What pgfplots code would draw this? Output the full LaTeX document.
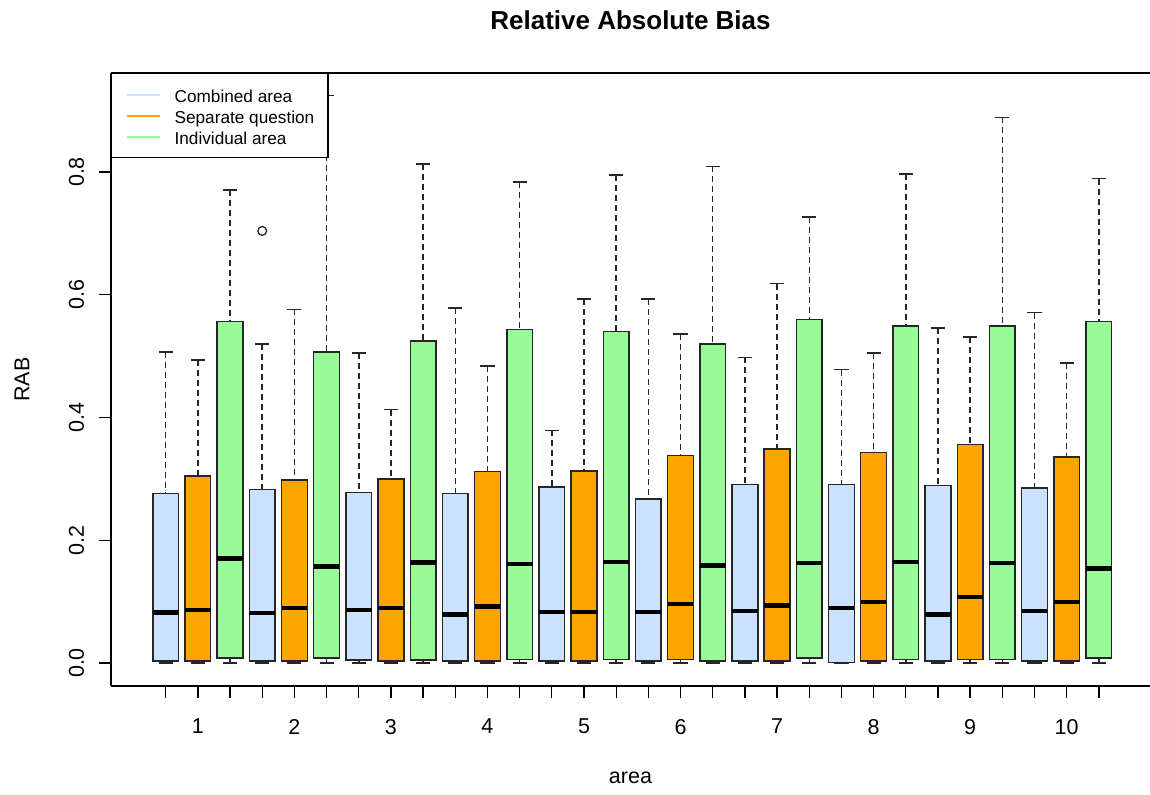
\documentclass[border=0pt]{standalone}
\usepackage{pgfplots}
\pgfplotsset{compat=1.18}
\usepgfplotslibrary{statistics}
\usepackage{fontspec}
\setmainfont{Liberation Sans}
\definecolor{cblue}{HTML}{CAE1FF}
\definecolor{corange}{HTML}{FFA500}
\definecolor{cgreen}{HTML}{98FB98}
\pgfplotsset{
  boxplot/draw direction=y,
  boxplot/box extend=0.8,
  boxplot/whisker extend=0.44,
  boxplot/every median/.style={draw=black, line width=2.2pt},
  boxplot/draw/lower whisker/.code={%
    \draw[black!85, line width=0.75pt, dash pattern=on 3pt off 2pt]
      (boxplot cs:\pgfplotsboxplotvalue{lower whisker}) -- (boxplot cs:\pgfplotsboxplotvalue{lower quartile});
    \draw[black!85, line width=0.75pt]
      (boxplot whisker cs:\pgfplotsboxplotvalue{lower whisker},0) -- (boxplot whisker cs:\pgfplotsboxplotvalue{lower whisker},1);
  },
  boxplot/draw/upper whisker/.code={%
    \draw[black!85, line width=0.75pt, dash pattern=on 3pt off 2pt]
      (boxplot cs:\pgfplotsboxplotvalue{upper whisker}) -- (boxplot cs:\pgfplotsboxplotvalue{upper quartile});
    \draw[black!85, line width=0.75pt]
      (boxplot whisker cs:\pgfplotsboxplotvalue{upper whisker},0) -- (boxplot whisker cs:\pgfplotsboxplotvalue{upper whisker},1);
  },
}
\newcommand{\bx}[7]{%
  \addplot[forget plot, boxplot/draw direction=y, boxplot prepared={draw position=#1, lower whisker=#2, lower quartile=#3, median=#4, upper quartile=#5, upper whisker=#6},
    boxplot/every box/.style={fill=#7, draw=black!85, line width=0.75pt}] coordinates {};
}
\begin{document}
\begin{tikzpicture}
\useasboundingbox (-55.5pt,-54pt) rectangle (519.5pt,343pt);
\begin{axis}[
  scale only axis,
  width=519.5pt, height=306.5pt,
  xmin=-0.7, xmax=31.59,
  ymin=-0.0375, ymax=0.9613,
  axis x line*=bottom, axis y line*=left,
  axis line style={-, black, line width=0.65pt},
  tick align=outside,
  major tick length=6pt,
  tick style={black, line width=0.65pt},
  xtick={1,...,30},
  xticklabels={{},1,{},{},2,{},{},3,{},{},4,{},{},5,{},{},6,{},{},7,{},{},8,{},{},9,{},{},10,{}},
  ytick={0,0.2,0.4,0.6,0.8},
  yticklabels={0.0,0.2,0.4,0.6,0.8},
  tick label style={font=\fontsize{10.75}{13}\selectfont},
  yticklabel style={rotate=90, anchor=south},
  yticklabel shift=3.9pt,
  xticklabel shift=7pt,
  xlabel={area},
  ylabel={RAB},
  label style={font=\fontsize{10.75}{13}\selectfont},
  xlabel style={at={(axis description cs:0.5,-0.150)}, anchor=center},
  ylabel style={at={(axis description cs:-0.0857,0.5)}, anchor=center},
  title={Relative Absolute Bias},
  title style={at={(axis description cs:0.5,1.0670)}, anchor=center, font=\bfseries\fontsize{13}{15}\selectfont},
  legend style={at={(0,1)}, anchor=north west, draw=black, line width=0.65pt, fill=white,
    font=\fontsize{8.6}{10}\selectfont, inner xsep=6.9pt, inner ysep=6.5pt, row sep=2.5pt, column sep=7pt,
    nodes={inner sep=0pt, text height=7.7pt, text depth=0.3pt}},
  legend cell align=left,
  legend image code/.code={\draw[#1, line width=1.1pt] (0pt,0pt) -- (16.5pt,0pt);},
]
\bx{1}{0}{0.003}{0.082}{0.276}{0.507}{cblue}
\bx{2}{0}{0.003}{0.086}{0.305}{0.494}{corange}
\bx{3}{0}{0.008}{0.170}{0.556}{0.771}{cgreen}
\addplot[forget plot, boxplot/draw direction=y, boxplot prepared={draw position=4, lower whisker=0, lower quartile=0.003, median=0.081, upper quartile=0.283, upper whisker=0.520},
    boxplot/every box/.style={fill=cblue, draw=black!85, line width=0.75pt},
    mark=o, mark size=2.2pt, mark options={black!85, line width=0.65pt}]
    table[row sep=\\, y index=0] {data\\ 0.704\\};
\bx{5}{0}{0.003}{0.090}{0.298}{0.576}{corange}
\bx{6}{0}{0.008}{0.157}{0.507}{0.925}{cgreen}
\bx{7}{0}{0.005}{0.086}{0.278}{0.505}{cblue}
\bx{8}{0}{0.003}{0.090}{0.300}{0.413}{corange}
\bx{9}{0}{0.005}{0.164}{0.525}{0.813}{cgreen}
\bx{10}{0}{0.003}{0.079}{0.276}{0.578}{cblue}
\bx{11}{0}{0.003}{0.092}{0.312}{0.484}{corange}
\bx{12}{0}{0.006}{0.161}{0.543}{0.784}{cgreen}
\bx{13}{0}{0.003}{0.083}{0.287}{0.379}{cblue}
\bx{14}{0}{0.003}{0.083}{0.313}{0.593}{corange}
\bx{15}{0}{0.006}{0.165}{0.540}{0.795}{cgreen}
\bx{16}{0}{0.003}{0.083}{0.267}{0.593}{cblue}
\bx{17}{0}{0.006}{0.096}{0.338}{0.536}{corange}
\bx{18}{0}{0.003}{0.159}{0.520}{0.809}{cgreen}
\bx{19}{0}{0.003}{0.085}{0.291}{0.498}{cblue}
\bx{20}{0}{0.003}{0.094}{0.349}{0.618}{corange}
\bx{21}{0}{0.008}{0.163}{0.560}{0.727}{cgreen}
\bx{22}{0}{0.001}{0.090}{0.291}{0.478}{cblue}
\bx{23}{0}{0.003}{0.099}{0.343}{0.505}{corange}
\bx{24}{0}{0.006}{0.165}{0.549}{0.797}{cgreen}
\bx{25}{0}{0.003}{0.079}{0.289}{0.546}{cblue}
\bx{26}{0}{0.006}{0.108}{0.356}{0.531}{corange}
\bx{27}{0}{0.006}{0.163}{0.549}{0.889}{cgreen}
\bx{28}{0}{0.003}{0.085}{0.285}{0.571}{cblue}
\bx{29}{0}{0.003}{0.099}{0.336}{0.489}{corange}
\bx{30}{0}{0.008}{0.154}{0.556}{0.789}{cgreen}
\draw[black, line width=0.65pt] (rel axis cs:0,1) -- (rel axis cs:1,1);
\addlegendimage{color=cblue}
\addlegendentry{Combined area}
\addlegendimage{color=corange}
\addlegendentry{Separate question}
\addlegendimage{color=cgreen}
\addlegendentry{Individual area}
\end{axis}
\end{tikzpicture}
\end{document}
